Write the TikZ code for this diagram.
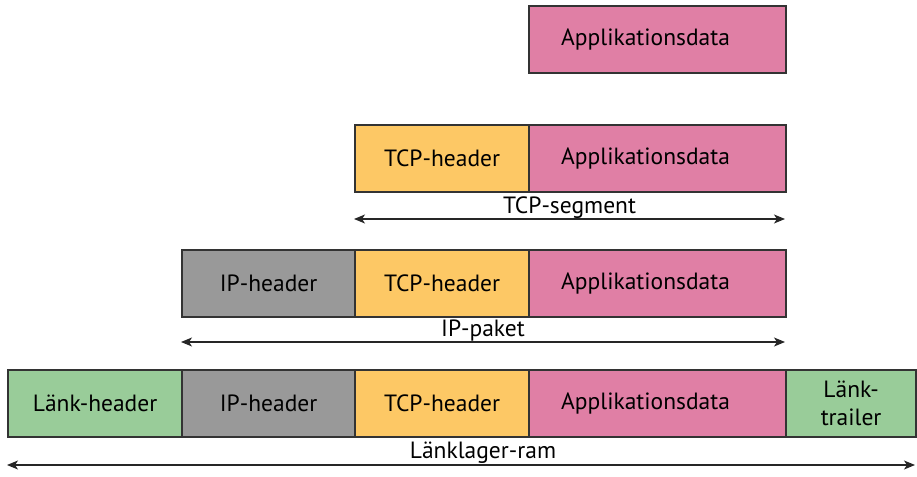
\documentclass[tikz,border=0pt]{standalone}
\usepackage{fontspec}
\setmainfont{PT Sans}
\usetikzlibrary{arrows.meta}
\definecolor{appcol}{HTML}{E07FA5}
\definecolor{tcpcol}{HTML}{FDC865}
\definecolor{ipcol}{HTML}{999999}
\definecolor{linkcol}{HTML}{99CC99}
\definecolor{edgecol}{HTML}{333333}
\newcommand{\fieldfont}{\fontsize{23.5}{27}\selectfont}
\tikzset{
  field/.style={draw=edgecol, line width=2.2pt, anchor=north west, minimum height=67pt,
    inner sep=0pt, align=center, font=\fieldfont},
  app/.style={field, fill=appcol, minimum width=257pt,
    label={[xshift=-12pt, font=\fieldfont]center:Applikationsdata}},
  tcp/.style={field, fill=tcpcol, minimum width=174pt},
  ip/.style={field, fill=ipcol, minimum width=173pt},
  lnk/.style={field, fill=linkcol, minimum width=174pt},
  span/.style={{Stealth[length=11pt,width=9pt,inset=3pt]}-{Stealth[length=11pt,width=9pt,inset=3pt]}, line width=1.4pt, draw=black!85},
  spanlabel/.style={font=\fieldfont, anchor=base}
}
\begin{document}
\begin{tikzpicture}[x=1pt,y=-1pt]
\useasboundingbox (0,0) rectangle (917,476);
% application layer
\node[app] (app1) at (528,5) {};
% transport segment
\node[tcp] (tcp2) at (354,124) {TCP-header};
\node[app] (app2) at (528,124) {};
\coordinate (s2a) at (354,219);
\coordinate (s2b) at (785,219);
\draw[span] (s2a) -- (s2b);
\node[spanlabel] (l2) at (569.5,213) {TCP-segment};
% network packet
\node[ip] (ip3) at (181,249) {IP-header};
\node[tcp] (tcp3) at (354,249) {TCP-header};
\node[app] (app3) at (528,249) {};
\coordinate (s3a) at (181,342);
\coordinate (s3b) at (785,342);
\draw[span] (s3a) -- (s3b);
\node[spanlabel] (l3) at (483,336) {IP-paket};
% link frame
\node[lnk] (lnk4) at (7,369) {Länk-header};
\node[ip] (ip4) at (181,369) {IP-header};
\node[tcp] (tcp4) at (354,369) {TCP-header};
\node[app] (app4) at (528,369) {};
\node[field, fill=linkcol, minimum width=130pt, font=\fontsize{23.5}{28}\selectfont] (trl4) at (785,369) {Länk-\\trailer};
\coordinate (s4a) at (7,465);
\coordinate (s4b) at (915,465);
\draw[span] (s4a) -- (s4b);
\node[spanlabel] (l4) at (483,458) {Länklager-ram};
\end{tikzpicture}
\end{document}
